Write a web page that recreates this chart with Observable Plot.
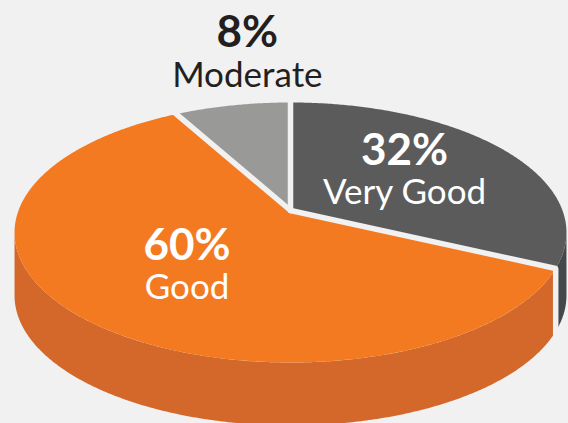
<!DOCTYPE html>
<html>
<head>
<meta charset="utf-8">
<script src="https://cdn.jsdelivr.net/npm/d3@7"></script>
<script src="https://cdn.jsdelivr.net/npm/@observablehq/plot@0.6"></script>
<style>
  html, body { margin: 0; padding: 0; background: #f1f1f1; }
  svg { display: block; }
</style>
</head>
<body>
<div id="chart"></div>
<script>
// ---- data ----
const categories = ["Very Good", "Good", "Moderate"];
const values = [32, 60, 8];
const percentLabels = ["32%", "60%", "8%"];
const topColors = ["#5b5b5b", "#f47a21", "#999998"];
const sideColors = ["#45484a", "#d3682a", "#7a7a7a"];
const labelInside = [true, true, false];

// ---- 3D pie geometry (layout) ----
const W = 568, H = 423;
const X0 = 290, Y0 = 210, A = 272, B = 126.3, K = 0.169, DEPTH = 63;
const BG = "#f1f1f1";

function proj(t, r, z = 0) {
  const u = r * Math.sin(t), v = -r * Math.cos(t), w = 1 - K * v;
  return [X0 + A * u / w, Y0 + B * v / w + z];
}

const total = d3.sum(values);
let acc = 0;
const slices = categories.map((c, i) => {
  const a = acc / total * 2 * Math.PI;
  acc += values[i];
  const b = acc / total * 2 * Math.PI;
  return {c, i, a, b};
});

const STEP = Math.PI / 360;
function arcPts(a, b, r, z) {
  const n = Math.max(2, Math.ceil(Math.abs(b - a) / STEP));
  return d3.range(n + 1).map(j => proj(a + (b - a) * j / n, r, z));
}

const visA = Math.acos(-K), visB = 2 * Math.PI - Math.acos(-K);

// side walls
const walls = [];
slices.forEach(s => {
  const lo = Math.max(s.a, visA), hi = Math.min(s.b, visB);
  if (lo >= hi) return;
  const pts = [...arcPts(lo, hi, 1, 0), ...arcPts(hi, lo, 1, DEPTH)];
  pts.forEach(p => walls.push({x: p[0], y: p[1], id: "w" + s.i, key: s.c + " side"}));
});

// top faces
const tops = [];
slices.forEach(s => {
  const pts = [[X0, Y0], ...arcPts(s.a, s.b, 1, 0)];
  pts.forEach(p => tops.push({x: p[0], y: p[1], id: "t" + s.i, key: s.c}));
});

// gap lines between slices
const gaps = [];
slices.forEach(s => {
  const t = s.a;
  const pts = [[X0, Y0], proj(t, 1.03, 0)];
  if (t > visA && t < visB) { pts[1] = proj(t, 1, 0); pts.push(proj(t, 1, DEPTH + 3)); }
  pts.forEach(p => gaps.push({x: p[0], y: p[1], id: "g" + s.i}));
});

// label anchors
const labels = slices.map(s => {
  const m = (s.a + s.b) / 2;
  if (labelInside[s.i]) {
    const [x, y] = proj(m, 0.52, 0);
    const shift = 12 - 8.3 * Math.cos(m);
    const c = y + shift;
    return {x, pY: c - 19.5, nY: c + 19.5, pct: percentLabels[s.i], name: s.c, inside: true};
  } else {
    const [x] = proj(m, 1, 0);
    const top = proj(0, 1, 0)[1];
    return {x, pY: top - 55, nY: top - 15, pct: percentLabels[s.i], name: s.c, inside: false};
  }
});
const inL = labels.filter(d => d.inside), outL = labels.filter(d => !d.inside);

const font = "Lato, 'Open Sans', sans-serif";
const chart = Plot.plot({
  width: W, height: H, margin: 0,
  x: {domain: [0, W], range: [0, W], axis: null},
  y: {domain: [0, H], range: [0, H], axis: null},
  color: {domain: [...categories, ...categories.map(c => c + " side")], range: [...topColors, ...sideColors]},
  style: {background: BG, fontFamily: font},
  marks: [
    Plot.line(walls, {x: "x", y: "y", z: "id", fill: "key", stroke: "none"}),
    Plot.line(tops, {x: "x", y: "y", z: "id", fill: "key", stroke: "none"}),
    Plot.line(gaps, {x: "x", y: "y", z: "id", stroke: BG, strokeWidth: 5.5, strokeLinejoin: "round"}),
    Plot.text(inL, {x: "x", y: "pY", text: "pct", fill: "white", fontSize: 44, fontWeight: "bold", lineAnchor: "bottom", fontFamily: font}),
    Plot.text(inL, {x: "x", y: "nY", text: "name", fill: "white", fontSize: 35, lineAnchor: "bottom", fontFamily: font}),
    Plot.text(outL, {x: "x", y: "pY", dx: 15, text: "pct", fill: "#231f20", fontSize: 44, fontWeight: "bold", lineAnchor: "bottom", fontFamily: font}),
    Plot.text(outL, {x: "x", y: "nY", dx: 15, text: "name", fill: "#231f20", fontSize: 35, lineAnchor: "bottom", fontFamily: font})
  ]
});
document.getElementById("chart").appendChild(chart);
</script>
</body>
</html>
